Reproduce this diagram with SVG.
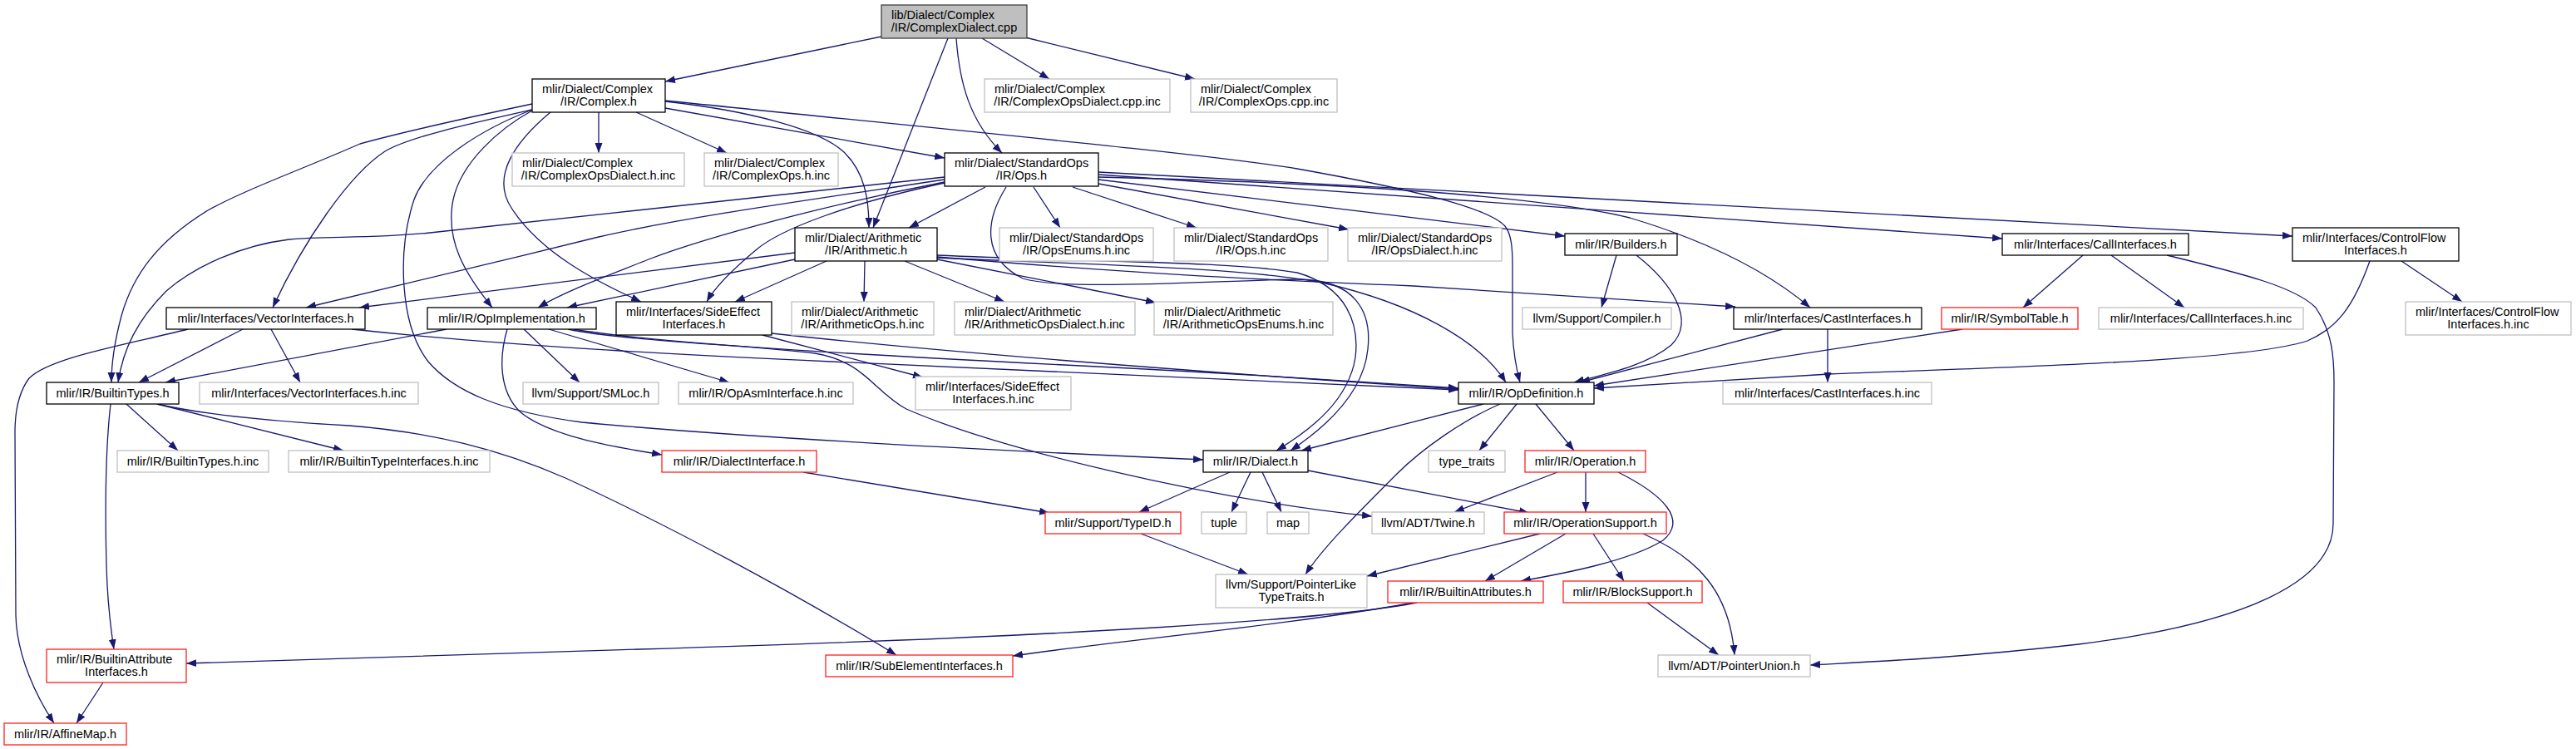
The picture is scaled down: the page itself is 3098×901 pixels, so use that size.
<svg xmlns="http://www.w3.org/2000/svg" width="3098" height="901" viewBox="0 0 3098 901">
<style>
rect{fill:#fff;stroke:#000;stroke-width:1.3}
.g rect{stroke:#c0c0c0}
.r rect{stroke:#ff2020}
.root rect{fill:#bfbfbf;stroke:#404040}
text{font-family:"Liberation Sans",Arial,sans-serif;font-size:14.5px;fill:#000}
.m{text-anchor:middle}
#edges path{fill:none;stroke:#191970;stroke-width:1.3;marker-end:url(#a)}
</style>
<defs>
<marker id="a" markerUnits="userSpaceOnUse" markerWidth="13" markerHeight="10" refX="12" refY="4.5" orient="auto"><path d="M0,0 L12,4.5 L0,9 z" fill="#191970"/></marker>
</defs>
<rect x="0" y="0" width="3098" height="901" style="fill:#fff;stroke:none"/>
<g id="edges">
<path d="M1060,44 L800,98"/>
<path d="M1140,46 L1050,274"/>
<path d="M1150,46 C1154,100 1166,145 1205,184"/>
<path d="M1181,46 L1262,95"/>
<path d="M1233,45 L1437,95"/>
<path d="M720,135 L720,184"/>
<path d="M765,135 L874,184"/>
<path d="M800,130 L1136,190"/>
<path d="M800,122 C900,133 985,155 1015,183 C1040,207 1045,240 1045,274"/>
<path d="M800,121 C1150,157 1450,185 1560,203 C1700,228 1790,250 1810,272 C1818,282 1819,300 1819,320 L1819,400 C1820,425 1824,445 1828,460"/>
<path d="M640,132 C560,150 492,165 463,182 C420,210 365,290 328,370"/>
<path d="M640,125 C560,142 480,160 433,173 C360,205 295,228 250,253 C190,290 160,330 146,380 C138,410 134,435 134,460"/>
<path d="M640,132 C580,155 515,195 498,240 C478,300 480,390 515,435 C545,470 600,495 700,508 C900,527 1200,542 1447,553"/>
<path d="M640,133 C600,155 555,195 545,240 C535,290 560,330 592,370"/>
<path d="M662,135 C620,170 590,212 615,250 C650,305 720,340 771,363"/>
<path d="M1185,225 L1093,274"/>
<path d="M1243,225 L1275,274"/>
<path d="M1290,225 L1439,274"/>
<path d="M1321,221 L1622,276"/>
<path d="M1321,216 L1882,284"/>
<path d="M1321,213 C1600,220 1850,235 1960,262 C2060,292 2130,330 2177,370"/>
<path d="M1321,210 L2408,287"/>
<path d="M1321,207 L2757,284"/>
<path d="M1136,213 L517,280 C450,287 390,284 348,288 C290,295 235,320 200,350 C165,385 148,420 142,460"/>
<path d="M1136,216 C950,244 820,262 720,285 C600,315 470,345 368,370"/>
<path d="M1136,219 C1000,245 850,285 780,312 C730,332 680,350 647,370"/>
<path d="M1136,220 C1020,245 940,275 910,300 C880,325 860,345 850,363"/>
<path d="M1210,225 C1185,265 1180,310 1230,335 C1280,350 1450,338 1560,336 C1630,336 1650,375 1645,420 C1640,470 1600,510 1552,542"/>
<path d="M1127,307 C1300,315 1480,314 1560,328 C1620,345 1635,390 1630,430 C1622,480 1580,515 1535,542"/>
<path d="M956,304 L432,370"/>
<path d="M956,312 L682,370"/>
<path d="M994,314 L884,363"/>
<path d="M1040,314 L1039,363"/>
<path d="M1088,314 L1208,363"/>
<path d="M1127,312 L1390,364"/>
<path d="M1127,309 C1350,328 1500,336 1700,344 L2087,369"/>
<path d="M1127,310 C1300,318 1500,322 1590,340 C1700,365 1780,410 1811,460"/>
<path d="M1944,307 L1926,370"/>
<path d="M1968,307 C2010,340 2040,385 2010,415 C1980,440 1930,450 1893,460"/>
<path d="M2144,396 L1900,460"/>
<path d="M2198,396 L2198,460"/>
<path d="M2360,396 L1917,464"/>
<path d="M2850,314 C2830,370 2810,395 2775,410 C2700,435 2400,442 2200,450 L1917,467"/>
<path d="M2888,314 L2961,363"/>
<path d="M2505,307 L2433,370"/>
<path d="M2539,307 L2627,370"/>
<path d="M2606,307 C2700,330 2760,345 2785,370 C2805,400 2807,430 2807,460 L2806,630 C2806,700 2700,750 2500,775 C2350,792 2250,796 2177,800"/>
<path d="M292,396 L167,460"/>
<path d="M326,396 L361,460"/>
<path d="M226,396 C150,415 60,430 35,455 C20,475 18,500 18,520 L19,740 C20,790 45,840 65,870"/>
<path d="M423,396 C600,415 780,425 1000,435 C1300,448 1550,458 1754,469"/>
<path d="M537,396 L199,460"/>
<path d="M630,396 L697,460"/>
<path d="M660,396 L877,460"/>
<path d="M610,396 C600,430 600,470 625,495 C660,525 740,538 796,547"/>
<path d="M683,396 C750,410 900,415 980,425 C1040,435 1050,470 1090,492 C1200,540 1450,600 1650,621"/>
<path d="M690,396 C800,415 1100,430 1300,440 C1500,450 1650,460 1754,467"/>
<path d="M917,403 L1110,454"/>
<path d="M928,401 C1100,420 1400,445 1754,468"/>
<path d="M152,486 L214,542"/>
<path d="M189,486 L413,542"/>
<path d="M133,486 C128,530 126,600 128,680 C129,720 133,755 137,781"/>
<path d="M189,486 C250,500 330,507 420,512 C520,520 600,540 680,575 C800,630 950,710 1078,788"/>
<path d="M1784,486 L1565,542"/>
<path d="M1804,486 C1760,505 1710,540 1680,570 C1630,620 1590,660 1570,691"/>
<path d="M1824,486 L1779,542"/>
<path d="M1847,486 L1893,542"/>
<path d="M1479,568 L1370,616"/>
<path d="M1504,568 L1481,616"/>
<path d="M1518,568 L1541,616"/>
<path d="M1573,566 L1839,617"/>
<path d="M966,568 L1262,617"/>
<path d="M1372,642 L1501,691"/>
<path d="M1873,568 L1749,616"/>
<path d="M1907,568 L1907,616"/>
<path d="M1946,568 C2000,595 2030,625 2000,650 C1960,675 1880,690 1829,699"/>
<path d="M1852,642 L1644,693"/>
<path d="M1883,642 L1786,699"/>
<path d="M1916,642 L1953,699"/>
<path d="M1976,642 C2040,670 2080,710 2086,788"/>
<path d="M1981,725 L2067,788"/>
<path d="M1704,725 C1600,745 1300,765 770,781 L224,798"/>
<path d="M1700,725 C1550,752 1350,770 1218,789"/>
<path d="M124,821 L92,870"/>
</g>
<g id="root" class="root"><rect x="1060" y="6" width="175" height="40"/><text x="1072" y="22.5">lib/Dialect/Complex</text><text class="m" x="1147.5" y="37.5">/IR/ComplexDialect.cpp</text></g>
<g id="complex_h"><rect x="640" y="95" width="160" height="40"/><text x="652" y="111.5">mlir/Dialect/Complex</text><text class="m" x="720" y="126.5">/IR/Complex.h</text></g>
<g id="complexopsdialect_cpp_inc" class="g"><rect x="1184" y="95" width="223" height="40"/><text x="1196" y="111.5">mlir/Dialect/Complex</text><text class="m" x="1295.5" y="126.5">/IR/ComplexOpsDialect.cpp.inc</text></g>
<g id="complexops_cpp_inc" class="g"><rect x="1432" y="95" width="176" height="40"/><text x="1444" y="111.5">mlir/Dialect/Complex</text><text class="m" x="1520" y="126.5">/IR/ComplexOps.cpp.inc</text></g>
<g id="complexopsdialect_h_inc" class="g"><rect x="616" y="184" width="207" height="40"/><text x="628" y="200.5">mlir/Dialect/Complex</text><text class="m" x="719.5" y="215.5">/IR/ComplexOpsDialect.h.inc</text></g>
<g id="complexops_h_inc" class="g"><rect x="847" y="184" width="161" height="40"/><text x="859" y="200.5">mlir/Dialect/Complex</text><text class="m" x="927.5" y="215.5">/IR/ComplexOps.h.inc</text></g>
<g id="ops_h"><rect x="1136" y="184" width="185" height="40"/><text x="1148" y="200.5">mlir/Dialect/StandardOps</text><text class="m" x="1228.5" y="215.5">/IR/Ops.h</text></g>
<g id="arithmetic_h"><rect x="956" y="274" width="171" height="40"/><text x="968" y="290.5">mlir/Dialect/Arithmetic</text><text class="m" x="1041.5" y="305.5">/IR/Arithmetic.h</text></g>
<g id="opsenums_h_inc" class="g"><rect x="1202" y="274" width="185" height="40"/><text x="1214" y="290.5">mlir/Dialect/StandardOps</text><text class="m" x="1294.5" y="305.5">/IR/OpsEnums.h.inc</text></g>
<g id="ops_h_inc" class="g"><rect x="1412" y="274" width="185" height="40"/><text x="1424" y="290.5">mlir/Dialect/StandardOps</text><text class="m" x="1504.5" y="305.5">/IR/Ops.h.inc</text></g>
<g id="opsdialect_h_inc" class="g"><rect x="1621" y="274" width="185" height="40"/><text x="1633" y="290.5">mlir/Dialect/StandardOps</text><text class="m" x="1713.5" y="305.5">/IR/OpsDialect.h.inc</text></g>
<g id="builders_h"><rect x="1882" y="281" width="135" height="26"/><text class="m" x="1949.5" y="299">mlir/IR/Builders.h</text></g>
<g id="callinterfaces_h"><rect x="2408" y="281" width="224" height="26"/><text class="m" x="2520" y="299">mlir/Interfaces/CallInterfaces.h</text></g>
<g id="controlflowinterfaces_h"><rect x="2757" y="274" width="200" height="40"/><text x="2769" y="290.5">mlir/Interfaces/ControlFlow</text><text class="m" x="2857" y="305.5">Interfaces.h</text></g>
<g id="vectorinterfaces_h"><rect x="200" y="370" width="239" height="26"/><text class="m" x="319.5" y="388">mlir/Interfaces/VectorInterfaces.h</text></g>
<g id="opimplementation_h"><rect x="514" y="370" width="203" height="26"/><text class="m" x="615.5" y="388">mlir/IR/OpImplementation.h</text></g>
<g id="sideeffectinterfaces_h"><rect x="741" y="363" width="187" height="40"/><text x="753" y="379.5">mlir/Interfaces/SideEffect</text><text class="m" x="834.5" y="394.5">Interfaces.h</text></g>
<g id="arithmeticops_h_inc" class="g"><rect x="952" y="363" width="171" height="40"/><text x="964" y="379.5">mlir/Dialect/Arithmetic</text><text class="m" x="1037.5" y="394.5">/IR/ArithmeticOps.h.inc</text></g>
<g id="arithmeticopsdialect_h_inc" class="g"><rect x="1148" y="363" width="217" height="40"/><text x="1160" y="379.5">mlir/Dialect/Arithmetic</text><text class="m" x="1256.5" y="394.5">/IR/ArithmeticOpsDialect.h.inc</text></g>
<g id="arithmeticopsenums_h_inc" class="g"><rect x="1388" y="363" width="215" height="40"/><text x="1400" y="379.5">mlir/Dialect/Arithmetic</text><text class="m" x="1495.5" y="394.5">/IR/ArithmeticOpsEnums.h.inc</text></g>
<g id="compiler_h" class="g"><rect x="1831" y="370" width="179" height="26"/><text class="m" x="1920.5" y="388">llvm/Support/Compiler.h</text></g>
<g id="castinterfaces_h"><rect x="2085" y="370" width="226" height="26"/><text class="m" x="2198" y="388">mlir/Interfaces/CastInterfaces.h</text></g>
<g id="symboltable_h" class="r"><rect x="2335" y="370" width="164" height="26"/><text class="m" x="2417" y="388">mlir/IR/SymbolTable.h</text></g>
<g id="callinterfaces_h_inc" class="g"><rect x="2524" y="370" width="246" height="26"/><text class="m" x="2647" y="388">mlir/Interfaces/CallInterfaces.h.inc</text></g>
<g id="controlflowinterfaces_h_inc" class="g"><rect x="2893" y="363" width="199" height="40"/><text x="2905" y="379.5">mlir/Interfaces/ControlFlow</text><text class="m" x="2992.5" y="394.5">Interfaces.h.inc</text></g>
<g id="builtintypes_h"><rect x="56" y="460" width="159" height="26"/><text class="m" x="135.5" y="478">mlir/IR/BuiltinTypes.h</text></g>
<g id="vectorinterfaces_h_inc" class="g"><rect x="240" y="460" width="263" height="26"/><text class="m" x="371.5" y="478">mlir/Interfaces/VectorInterfaces.h.inc</text></g>
<g id="smloc_h" class="g"><rect x="629" y="460" width="163" height="26"/><text class="m" x="710.5" y="478">llvm/Support/SMLoc.h</text></g>
<g id="opasminterface_h_inc" class="g"><rect x="816" y="460" width="210" height="26"/><text class="m" x="921" y="478">mlir/IR/OpAsmInterface.h.inc</text></g>
<g id="sideeffectinterfaces_h_inc" class="g"><rect x="1101" y="453" width="187" height="40"/><text x="1113" y="469.5">mlir/Interfaces/SideEffect</text><text class="m" x="1194.5" y="484.5">Interfaces.h.inc</text></g>
<g id="opdefinition_h"><rect x="1754" y="460" width="163" height="26"/><text class="m" x="1835.5" y="478">mlir/IR/OpDefinition.h</text></g>
<g id="castinterfaces_h_inc" class="g"><rect x="2072" y="460" width="251" height="26"/><text class="m" x="2197.5" y="478">mlir/Interfaces/CastInterfaces.h.inc</text></g>
<g id="builtintypes_h_inc" class="g"><rect x="141" y="542" width="182" height="26"/><text class="m" x="232" y="560">mlir/IR/BuiltinTypes.h.inc</text></g>
<g id="builtintypeinterfaces_h_inc" class="g"><rect x="347" y="542" width="242" height="26"/><text class="m" x="468" y="560">mlir/IR/BuiltinTypeInterfaces.h.inc</text></g>
<g id="dialectinterface_h" class="r"><rect x="796" y="542" width="186" height="26"/><text class="m" x="889" y="560">mlir/IR/DialectInterface.h</text></g>
<g id="dialect_h"><rect x="1447" y="542" width="126" height="26"/><text class="m" x="1510" y="560">mlir/IR/Dialect.h</text></g>
<g id="type_traits" class="g"><rect x="1718" y="542" width="92" height="26"/><text class="m" x="1764" y="560">type_traits</text></g>
<g id="operation_h" class="r"><rect x="1834" y="542" width="145" height="26"/><text class="m" x="1906.5" y="560">mlir/IR/Operation.h</text></g>
<g id="typeid_h" class="r"><rect x="1257" y="616" width="163" height="26"/><text class="m" x="1338.5" y="634">mlir/Support/TypeID.h</text></g>
<g id="tuple" class="g"><rect x="1445" y="616" width="54" height="26"/><text class="m" x="1472" y="634">tuple</text></g>
<g id="map" class="g"><rect x="1524" y="616" width="50" height="26"/><text class="m" x="1549" y="634">map</text></g>
<g id="twine_h" class="g"><rect x="1650" y="616" width="135" height="26"/><text class="m" x="1717.5" y="634">llvm/ADT/Twine.h</text></g>
<g id="operationsupport_h" class="r"><rect x="1809" y="616" width="195" height="26"/><text class="m" x="1906.5" y="634">mlir/IR/OperationSupport.h</text></g>
<g id="pointerliketypetraits_h" class="g"><rect x="1462" y="691" width="182" height="40"/><text x="1474" y="707.5">llvm/Support/PointerLike</text><text class="m" x="1553" y="722.5">TypeTraits.h</text></g>
<g id="builtinattributes_h" class="r"><rect x="1669" y="699" width="187" height="26"/><text class="m" x="1762.5" y="717">mlir/IR/BuiltinAttributes.h</text></g>
<g id="blocksupport_h" class="r"><rect x="1880" y="699" width="167" height="26"/><text class="m" x="1963.5" y="717">mlir/IR/BlockSupport.h</text></g>
<g id="builtinattributeinterfaces_h" class="r"><rect x="56" y="781" width="168" height="40"/><text x="68" y="797.5">mlir/IR/BuiltinAttribute</text><text class="m" x="140" y="812.5">Interfaces.h</text></g>
<g id="subelementinterfaces_h" class="r"><rect x="993" y="788" width="225" height="26"/><text class="m" x="1105.5" y="806">mlir/IR/SubElementInterfaces.h</text></g>
<g id="affinemap_h" class="r"><rect x="5" y="870" width="147" height="26"/><text class="m" x="78.5" y="888">mlir/IR/AffineMap.h</text></g>
<g id="pointerunion_h" class="g"><rect x="1994" y="788" width="183" height="26"/><text class="m" x="2085.5" y="806">llvm/ADT/PointerUnion.h</text></g>
</svg>
